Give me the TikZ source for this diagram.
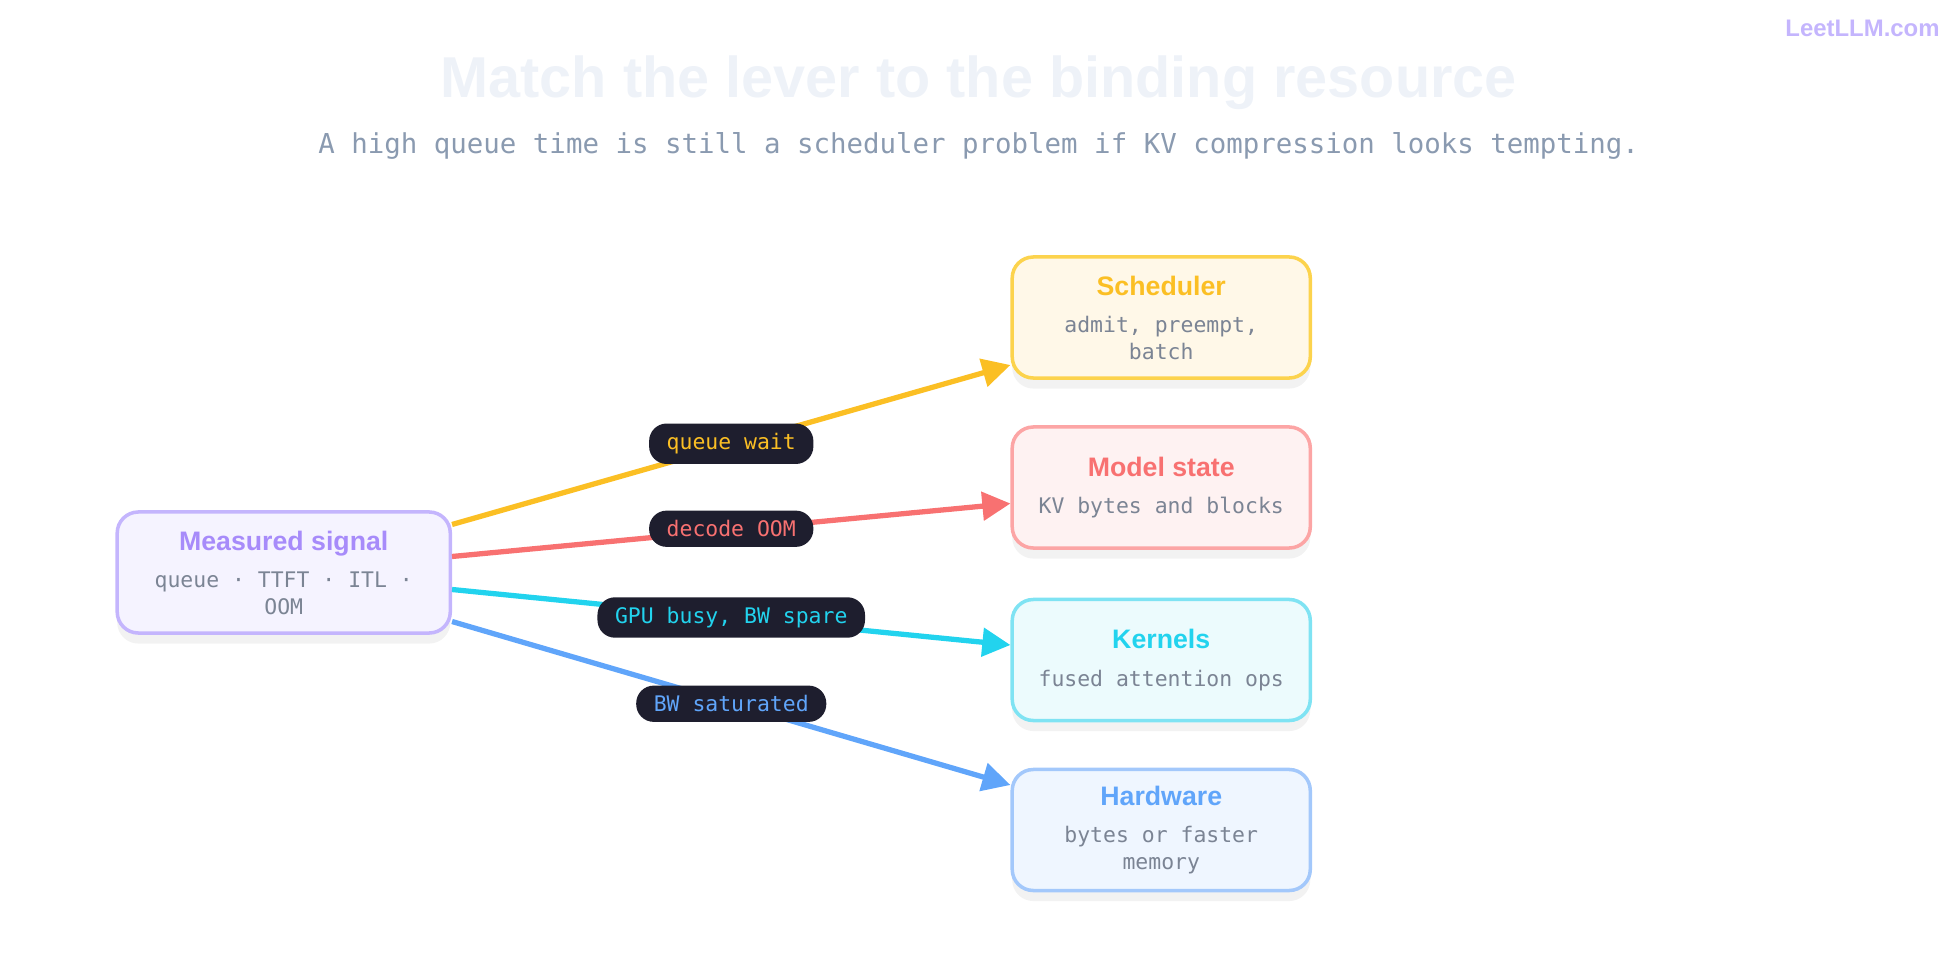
\documentclass[tikz,border=0pt]{standalone}
\usepackage{fontspec}
\setmainfont{Liberation Sans}
\newfontfamily\monofont{DejaVu Sans Mono}
\usetikzlibrary{arrows.meta}
\definecolor{sigc}{HTML}{A78BFA}\definecolor{sigb}{HTML}{C4B5FD}\definecolor{sigf}{HTML}{F5F3FF}
\definecolor{schc}{HTML}{FBBF24}\definecolor{schb}{HTML}{FCD34D}\definecolor{schf}{HTML}{FFF8E8}
\definecolor{modc}{HTML}{F87171}\definecolor{modb}{HTML}{FCA5A5}\definecolor{modf}{HTML}{FEF2F2}
\definecolor{kerc}{HTML}{22D3EE}\definecolor{kerb}{HTML}{7FE3F3}\definecolor{kerf}{HTML}{ECFBFD}
\definecolor{hwc}{HTML}{60A5FA}\definecolor{hwb}{HTML}{A3C8FB}\definecolor{hwf}{HTML}{EFF6FF}
\definecolor{pill}{HTML}{1E1E2E}\definecolor{subc}{HTML}{8A9AB0}\definecolor{bodyc}{HTML}{7B8494}
\definecolor{titc}{HTML}{EEF2F8}
\tikzset{
  box/.style={draw=#1, line width=1pt, rounded corners=6pt, minimum height=1.21cm,
    align=center, text=bodyc, font=\monofont\fontsize{6.1}{7.6}\selectfont,
    preaction={fill=black, fill opacity=0.05, transform canvas={yshift=-3pt}}},
  pil/.style={fill=pill, text=#1, rounded corners=5pt, font=\monofont\fontsize{6.1}{7}\selectfont,
    inner xsep=5pt, inner ysep=2.8pt},
  link/.style={draw=#1, line width=1.5pt, -{Triangle[length=8pt,width=8pt]}},
}
\newcommand{\boxhead}[2]{{\rmfamily\bfseries\fontsize{7.6}{9}\selectfont\color{#1}#2}\\[3pt]}
\begin{document}
\begin{tikzpicture}[x=0.0125cm,y=-0.0125cm]
\useasboundingbox (0,0) rectangle (1568,768);
\node[font=\bfseries\fontsize{16.4}{20}\selectfont, text=titc] (title) at (783,66) {Match the lever to the binding resource};
\node[font=\monofont\fontsize{7.8}{10}\selectfont, text=subc] (sub) at (783,117) {A high queue time is still a scheduler problem if KV compression looks tempting.};
\node[font=\bfseries\fontsize{6.8}{8}\selectfont, text=sigb] (logo) at (1490,23) {LeetLLM.com};
\node[box=sigb, fill=sigf, minimum width=3.33cm] (sig) at (227,458) {\boxhead{sigc}{Measured signal}queue · TTFT · ITL ·\\OOM};
\node[box=schb, fill=schf, minimum width=2.98cm] (sched) at (929,254) {\boxhead{schc}{Scheduler}admit, preempt,\\batch};
\node[box=modb, fill=modf, minimum width=2.98cm] (model) at (929,390) {\boxhead{modc}{Model state}KV bytes and blocks};
\node[box=kerb, fill=kerf, minimum width=2.98cm] (kern) at (929,528) {\boxhead{kerc}{Kernels}fused attention ops};
\node[box=hwb, fill=hwf, minimum width=2.98cm] (hw) at (929,664) {\boxhead{hwc}{Hardware}bytes or faster\\memory};
% links
\draw[link=schc] ([yshift=0.48cm]sig.east) -- ([yshift=-0.475cm]sched.west);
\draw[link=modc] ([yshift=0.16cm]sig.east) -- ([yshift=-0.16cm]model.west);
\draw[link=kerc] ([yshift=-0.17cm]sig.east) -- ([yshift=0.15cm]kern.west);
\draw[link=hwc] ([yshift=-0.49cm]sig.east) -- ([yshift=0.45cm]hw.west);
\node[pil=schc] (l1) at (585,355) {queue wait};
\node[pil=modc] (l2) at (585,423) {decode OOM};
\node[pil=kerc] (l3) at (585,494) {GPU busy, BW spare};
\node[pil=hwc] (l4) at (585,563) {BW saturated};
\end{tikzpicture}
\end{document}
